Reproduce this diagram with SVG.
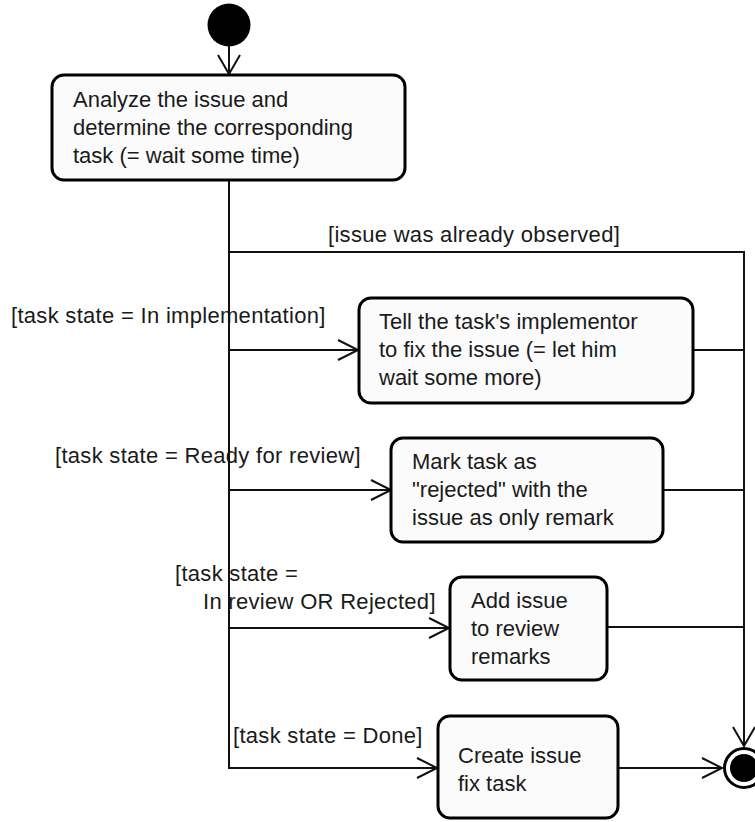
<svg xmlns="http://www.w3.org/2000/svg" width="755" height="822" viewBox="0 0 755 822">
  <defs>
    <style>
      .node rect { fill: #fbfbfb; stroke: #000; stroke-width: 3; }
      .node text, .guard { font-family: "Liberation Sans", Arial, sans-serif; font-size: 22px; fill: #1a1a1a; }
      .guard { letter-spacing: 0.3px; }
      .edge { fill: none; stroke: #111; stroke-width: 2; }
      .head { fill: none; stroke: #111; stroke-width: 2; }
    </style>
  </defs>

  <rect width="755" height="822" fill="#fff"/>

  <!-- guard labels -->
  <g id="guards">
    <text class="guard" x="328" y="242">[issue was already observed]</text>
    <text class="guard" x="11" y="323">[task state = In implementation]</text>
    <text class="guard" x="55" y="463">[task state = Ready for review]</text>
    <text class="guard" x="175" y="581">[task state =</text>
    <text class="guard" x="203" y="609">In review OR Rejected]</text>
    <text class="guard" x="233" y="743">[task state = Done]</text>
  </g>

  <!-- connectors -->
  <g id="connectors">
    <path class="edge" d="M229 46 V74"/>
    <path class="head" d="M218 55 L229 74 L240 55"/>
    <path class="edge" d="M229 180 V768 H437"/>
    <path class="edge" d="M229 252 H744 V746"/>
    <path class="edge" d="M229 350 H358"/>
    <path class="edge" d="M229 490 H391"/>
    <path class="edge" d="M229 628 H449"/>
    <path class="head" d="M338 340 L358 350 L338 360"/>
    <path class="head" d="M371 480 L391 490 L371 500"/>
    <path class="head" d="M429 618 L449 628 L429 638"/>
    <path class="head" d="M417 758 L437 768 L417 778"/>
    <path class="edge" d="M693 350 H744"/>
    <path class="edge" d="M663 490 H744"/>
    <path class="edge" d="M607 627 H744"/>
    <path class="edge" d="M618 768 H722"/>
    <path class="head" d="M733 727 L744 746 L755 727"/>
    <path class="head" d="M702 758 L722 768 L702 778"/>
  </g>

  <!-- initial node -->
  <g id="start">
    <circle cx="229" cy="25" r="21.5" fill="#000"/>
  </g>

  <g id="analyze" class="node">
    <rect x="52" y="75" width="353" height="105" rx="12"/>
    <text x="73" y="107">Analyze the issue and</text>
    <text x="73" y="135">determine the corresponding</text>
    <text x="73" y="163">task (= wait some time)</text>
  </g>

  <g id="tell-implementor" class="node">
    <rect x="359" y="298" width="334" height="105" rx="12"/>
    <text x="379" y="329">Tell the task's implementor</text>
    <text x="379" y="357">to fix the issue (= let him</text>
    <text x="379" y="385">wait some more)</text>
  </g>

  <g id="mark-rejected" class="node">
    <rect x="391" y="438" width="272" height="104" rx="12"/>
    <text x="412" y="469">Mark task as</text>
    <text x="412" y="497">"rejected" with the</text>
    <text x="412" y="525">issue as only remark</text>
  </g>

  <g id="add-remark" class="node">
    <rect x="450" y="577" width="157" height="103" rx="12"/>
    <text x="471" y="608">Add issue</text>
    <text x="471" y="636">to review</text>
    <text x="471" y="664">remarks</text>
  </g>

  <g id="create-fix-task" class="node">
    <rect x="438" y="716" width="180" height="102" rx="12"/>
    <text x="458" y="763">Create issue</text>
    <text x="458" y="791">fix task</text>
  </g>

  <!-- final node -->
  <g id="end">
    <circle cx="744" cy="768" r="19.5" fill="#fff" stroke="#000" stroke-width="3"/>
    <circle cx="744" cy="768" r="14" fill="#000"/>
  </g>
</svg>
